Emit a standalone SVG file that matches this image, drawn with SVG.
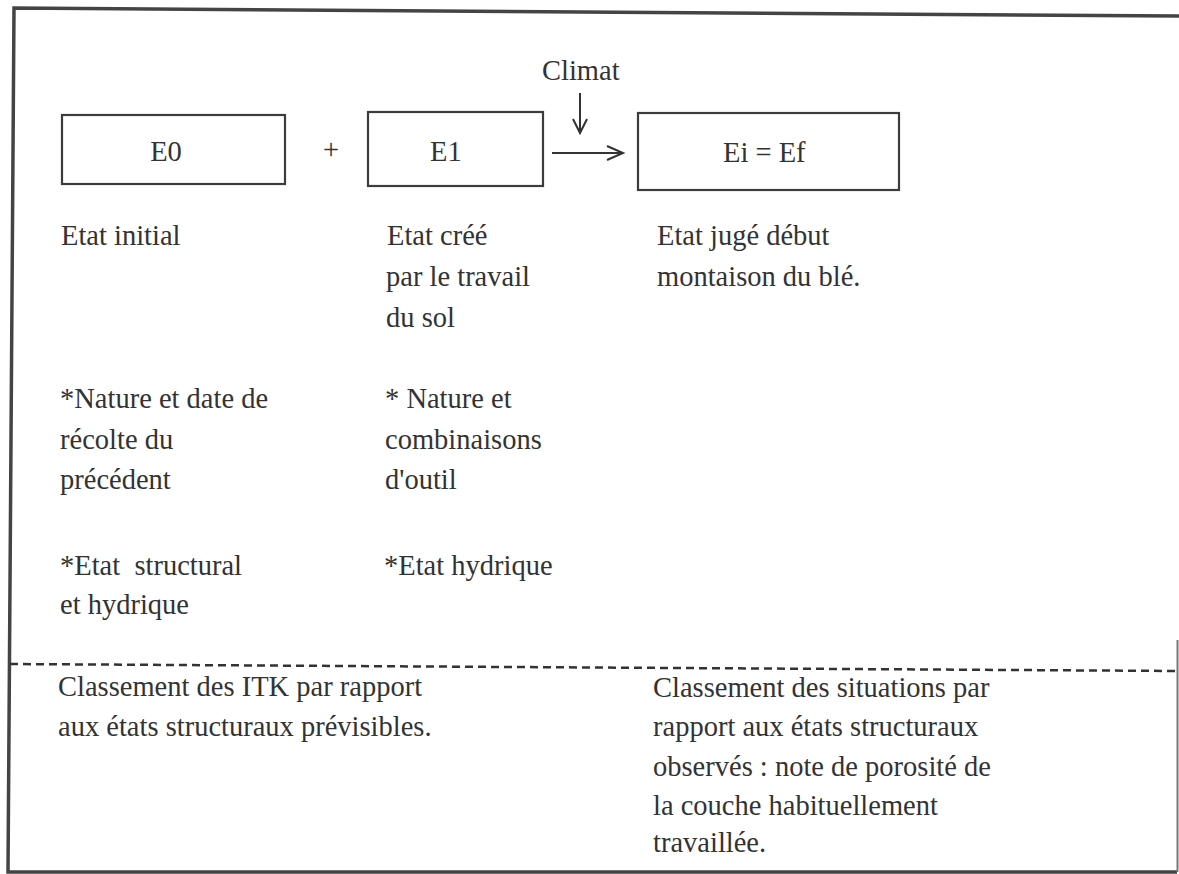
<svg xmlns="http://www.w3.org/2000/svg" width="1179" height="874" viewBox="0 0 1179 874">
<style>
text{font-family:"Liberation Serif","Times New Roman",serif;font-size:28.5px;fill:#333;}
.box{fill:none;stroke:#3c3c3c;stroke-width:2.2;}
.frame{fill:none;stroke:#444;stroke-width:3.5;}
.conn{fill:none;stroke:#333;stroke-width:2;}
.dash{fill:none;stroke:#333;stroke-width:2.5;stroke-dasharray:8 5;}
</style>
<rect width="1179" height="874" fill="#fff"/>
<g id="frame">
<polyline class="frame" points="1179,16 14,8 8,872 1177,872"/>
<line x1="1177.5" y1="640" x2="1177.5" y2="872" stroke="#777" stroke-width="2"/>
<line class="dash" x1="10" y1="664" x2="1179" y2="671"/>
</g>
<g id="node-e0">
<rect class="box" x="62" y="115" width="223" height="69"/>
<text x="166" y="161" text-anchor="middle">E0</text>
</g>
<g id="plus"><text x="331" y="159" text-anchor="middle">+</text></g>
<g id="node-e1">
<rect class="box" x="368" y="112" width="175" height="74"/>
<text x="430" y="161">E1</text>
</g>
<g id="node-eief">
<rect class="box" x="638" y="113" width="261" height="77"/>
<text x="723" y="162">Ei = Ef</text>
</g>
<g id="climat"><text x="542" y="80">Climat</text></g>
<g id="connectors">
<path class="conn" d="M580,93 V132 M573,119 L580,133 L587,119"/>
<path class="conn" d="M552,153 H622 M607,146 L623,153 L607,160"/>
</g>
<g id="col1">
<text x="61" y="245">Etat initial</text>
<text x="60" y="408">*Nature et date de</text>
<text x="60" y="449">récolte du</text>
<text x="60" y="489">précédent</text>
<text x="60" y="575" xml:space="preserve">*Etat  structural</text>
<text x="60" y="614">et hydrique</text>
</g>
<g id="col2">
<text x="387" y="245">Etat créé</text>
<text x="386" y="286">par le travail</text>
<text x="386" y="327">du sol</text>
<text x="385" y="408">* Nature et</text>
<text x="385" y="449">combinaisons</text>
<text x="385" y="489">d'outil</text>
<text x="384" y="575">*Etat hydrique</text>
</g>
<g id="col3">
<text x="657" y="245">Etat jugé début</text>
<text x="657" y="286">montaison du blé.</text>
</g>
<g id="bottom-left">
<text x="58" y="696">Classement des ITK par rapport</text>
<text x="58" y="736">aux états structuraux prévisibles.</text>
</g>
<g id="bottom-right">
<text x="653" y="697">Classement des situations par</text>
<text x="653" y="736">rapport aux états structuraux</text>
<text x="653" y="776">observés : note de porosité de</text>
<text x="653" y="815">la couche habituellement</text>
<text x="653" y="852">travaillée.</text>
</g>
</svg>
